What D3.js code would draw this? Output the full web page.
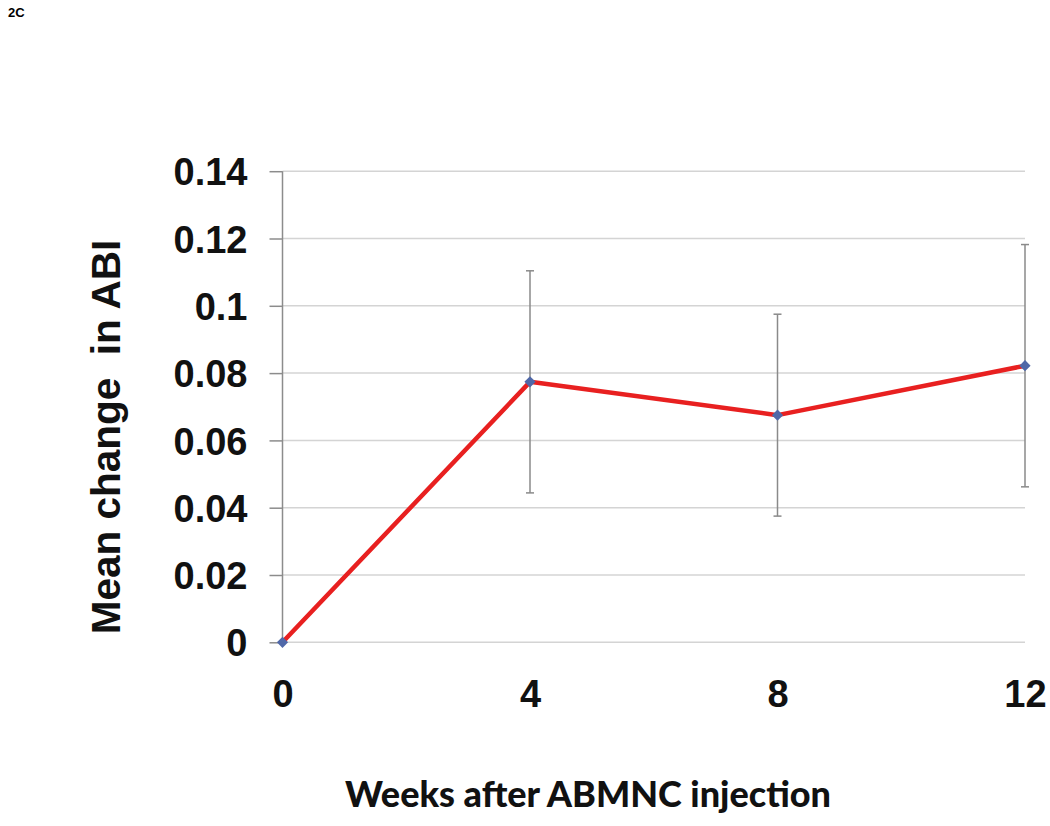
<!DOCTYPE html>
<html><head><meta charset="utf-8">
<script src="https://cdn.jsdelivr.net/npm/d3@7"></script>
<style>body{margin:0;background:#fff}svg{display:block}</style>
</head><body>
<script>
const weeks = [0, 4, 8, 12];
const meanChange = [0, 0.0774, 0.0675, 0.0822];
const errors = [0, 0.033, 0.030, 0.036];
const yTicks = [0, 0.02, 0.04, 0.06, 0.08, 0.1, 0.12, 0.14];
const xTicks = [0, 4, 8, 12];

const W = 1050, H = 826;
const svg = d3.select("body").append("svg").attr("width", W).attr("height", H);

const x = d3.scaleLinear().domain([0, 12]).range([282.5, 1025]);
const y = d3.scaleLinear().domain([0, 0.14]).range([642.3, 171.2]);

// panel label
svg.append("text").attr("x", 8).attr("y", 17).text("2C")
  .attr("font-family", "Liberation Sans, Arial, sans-serif").attr("font-weight", "bold").attr("font-size", 13);

// gridlines
svg.append("g").selectAll("line").data(yTicks).join("line")
  .attr("x1", x(0)).attr("x2", x(12))
  .attr("y1", d => y(d)).attr("y2", d => y(d))
  .attr("stroke", "#d4d4d4").attr("stroke-width", 1.5);

// y axis
const yAxis = d3.axisLeft(y).tickValues(yTicks).tickSize(13).tickPadding(22)
  .tickFormat(d => d3.format("")(+d.toFixed(2)));
const gy = svg.append("g").attr("transform", `translate(${x(0)},0)`).call(yAxis);
gy.select(".domain").attr("stroke", "#8c8c8c").attr("stroke-width", 1.5).attr("d", `M0,${y(0)}V${y(0.14)}`);
gy.selectAll(".tick line").attr("stroke", "#8c8c8c").attr("stroke-width", 1.5);
gy.selectAll(".tick text").attr("font-family", "Liberation Sans, Arial, sans-serif")
  .attr("font-weight", "bold").attr("font-size", 38).attr("fill", "#111").attr("dy", "0.36em");

// x axis labels
const xAxis = d3.axisBottom(x).tickValues(xTicks).tickSize(0).tickPadding(38);
const gx = svg.append("g").attr("transform", `translate(0,${y(0)})`).call(xAxis);
gx.select(".domain").remove();
gx.selectAll(".tick text").attr("font-family", "Liberation Sans, Arial, sans-serif")
  .attr("font-weight", "bold").attr("font-size", 38).attr("fill", "#111");

// error bars
const data = weeks.map((w, i) => ({w, m: meanChange[i], e: errors[i]}));
const eb = svg.append("g").selectAll("g").data(data.filter(d => d.e > 0)).join("g");
eb.append("line").attr("x1", d => x(d.w)).attr("x2", d => x(d.w))
  .attr("y1", d => y(d.m - d.e)).attr("y2", d => y(d.m + d.e))
  .attr("stroke", "#8a8a8a").attr("stroke-width", 1.5);
[-1, 1].forEach(s => {
  eb.append("line").attr("x1", d => x(d.w) - 4).attr("x2", d => x(d.w) + 4)
    .attr("y1", d => y(d.m + s * d.e)).attr("y2", d => y(d.m + s * d.e))
    .attr("stroke", "#8a8a8a").attr("stroke-width", 1.5);
});

// line
svg.append("path").datum(data)
  .attr("d", d3.line().x(d => x(d.w)).y(d => y(d.m)))
  .attr("fill", "none").attr("stroke", "#e82020").attr("stroke-width", 4.5).attr("stroke-linejoin", "round");

// markers
svg.append("g").selectAll("path").data(data).join("path")
  .attr("transform", d => `translate(${x(d.w)},${y(d.m)})`)
  .attr("d", d3.symbol(d3.symbolDiamond2, 80))
  .attr("fill", "#5068a8");

// axis titles
svg.append("text").attr("transform", "translate(120,437) rotate(-90)")
  .attr("text-anchor", "middle").attr("font-family", "Liberation Sans, Arial, sans-serif")
  .attr("font-weight", "bold").attr("font-size", 40.5).attr("fill", "#111")
  .attr("xml:space", "preserve").text("Mean change  in ABI");

svg.append("text").attr("x", 588).attr("y", 807).attr("text-anchor", "middle")
  .attr("font-family", "Lato, sans-serif").attr("font-weight", 900)
  .attr("font-size", 36).attr("fill", "#111").text("Weeks after ABMNC injection");
</script>
</body></html>
